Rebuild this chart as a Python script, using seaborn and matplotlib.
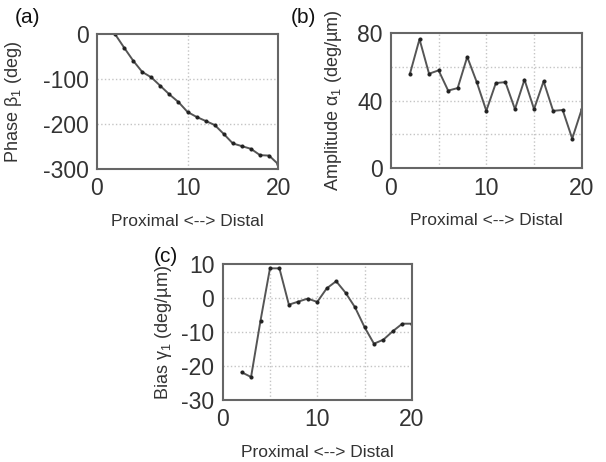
import numpy as np
import pandas as pd
import seaborn as sns
import matplotlib.pyplot as plt

# Segment index along the cell (proximal -> distal)
segment = list(range(2, 21))

# Phase beta_1 (deg)
phase = [0, -30, -59, -84, -96, -115, -134, -151, -173, -184,
         -193, -202, -222, -243, -249, -255, -269, -270, -289]

# Amplitude alpha_1 (deg/um)
amplitude = [56, 76.5, 56, 58, 46, 47.5, 66, 51, 34, 50.5,
             51, 35, 52.5, 35, 51.5, 34, 34.5, 17.5, 35]

# Bias gamma_1 (deg/um)
bias = [-21.8, -23.2, -6.6, 8.8, 8.8, -1.9, -1.0, -0.1, -1.1, 2.9,
        5.0, 1.6, -2.7, -8.5, -13.4, -12.2, -9.7, -7.5, -7.5]

df = pd.DataFrame({'seg': segment, 'phase': phase,
                   'amp': amplitude, 'bias': bias})

sns.set_style('white')
plt.rcParams['font.family'] = ['Liberation Sans', 'DejaVu Sans']
plt.rcParams['mathtext.fontset'] = 'custom'
plt.rcParams['mathtext.rm'] = 'Liberation Sans'
plt.rcParams['axes.unicode_minus'] = False

fig = plt.figure(figsize=(6.06, 4.62), dpi=100)
ax_a = fig.add_axes([0.160, 0.634, 0.299, 0.292])
ax_b = fig.add_axes([0.645, 0.636, 0.315, 0.292])
ax_c = fig.add_axes([0.3675, 0.134, 0.312, 0.294])

line_kw = dict(color='#555555', linewidth=1.4, marker='o', markersize=2.2,
               markerfacecolor='#222222', markeredgecolor='#222222')

panels = [
    (ax_a, 'phase', (-300, 0), [0, -100, -200, -300], [10], [-100, -200],
     'Phase β$_1$ (deg)', '(a)', (15, 8), -0.40),
    (ax_b, 'amp', (0, 80), [0, 40, 80], [5, 10, 15], [20, 40, 60],
     'Amplitude α$_1$ (deg/µm)', '(b)', (291, 8), -0.246),
    (ax_c, 'bias', (-30, 10), [10, 0, -10, -20, -30], [5, 10, 15], [0, -10, -20],
     'Bias γ$_1$ (deg/µm)', '(c)', (154, 247), -0.257),
]

for ax, col, ylim, yticks, xgrid, ygrid, ylabel, tag, tag_xy, ylab_x in panels:
    sns.lineplot(data=df, x='seg', y=col, ax=ax, **line_kw)
    ax.set_xlim(0, 20)
    ax.set_ylim(*ylim)
    ax.set_xticks([0, 10, 20])
    ax.set_yticks(yticks)
    for g in xgrid:
        ax.axvline(g, color='#c4c4c4', linestyle=':', linewidth=1, zorder=0)
    for g in ygrid:
        ax.axhline(g, color='#c4c4c4', linestyle=':', linewidth=1, zorder=0)
    ax.tick_params(direction='in', length=3, labelsize=16.5, colors='#333333')
    ax.tick_params(axis='y', pad=6)
    ax.tick_params(axis='x', pad=6)
    ax.set_xlabel('Proximal <--> Distal', fontsize=12.5, color='#333333',
                  labelpad=10)
    ax.set_ylabel(ylabel, fontsize=13, color='#333333')
    ax.yaxis.set_label_coords(ylab_x, 0.5)
    for s in ax.spines.values():
        s.set_color('#666666')
        s.set_linewidth(1.5)
    fig.text(tag_xy[0] / 606, 1 - tag_xy[1] / 462, tag, fontsize=15,
             ha='left', va='top', color='#111111')

fig.savefig('out.png', dpi=100)
